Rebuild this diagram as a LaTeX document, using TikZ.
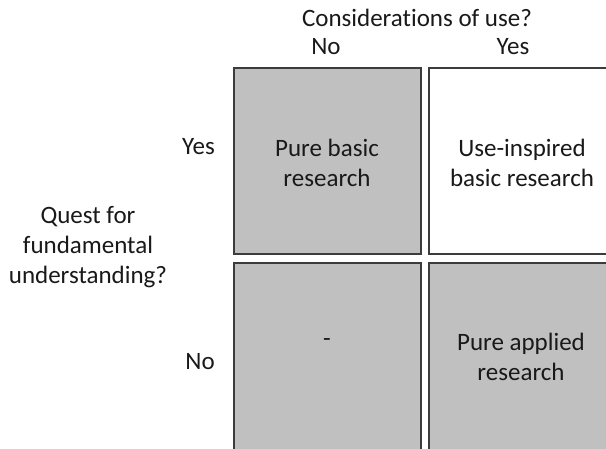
\documentclass[tikz,border=0pt]{standalone}
\usepackage{fontspec}
\setmainfont[RawFeature={-liga}]{Carlito}
\definecolor{cellgray}{HTML}{C0C0C0}
\definecolor{edgegray}{HTML}{3C3C3C}
\begin{document}
\begin{tikzpicture}[x=1pt,y=-1pt,
  cell/.style={draw=edgegray,line width=1.8pt},
  lbl/.style={font=\fontsize{25}{30}\selectfont,align=center,inner sep=0pt,text=black!90},
]
\useasboundingbox (0,0) rectangle (606,449);
\clip (0,0) rectangle (606,449);
% cells
\path[cell,fill=cellgray] (234,68) rectangle (421,254);
\path[cell,fill=white] (429,68) rectangle (625,254);
\path[cell,fill=cellgray] (234,263) rectangle (421,460);
\path[cell,fill=cellgray] (429,263) rectangle (625,460);
% header labels
\node[lbl] (cons) at (417,18) {Considerations of use?};
\node[lbl] (colno) at (326,47) {No};
\node[lbl] (colyes) at (513,47) {Yes};
% row labels
\node[lbl,anchor=east] (rowyes) at (215,147) {Yes};
\node[lbl,anchor=east] (rowno) at (215,362) {No};
\node[lbl] (quest) at (88,247) {Quest for\\fundamental\\understanding?};
% cell texts
\node[lbl] (pb) at (327,163) {Pure basic\\research};
\node[lbl] (ui) at (522,163) {Use-inspired\\basic research};
\node[lbl] (dash) at (327,343) {-};
\node[lbl] (pa) at (521,357) {Pure applied\\research};
\end{tikzpicture}
\end{document}
